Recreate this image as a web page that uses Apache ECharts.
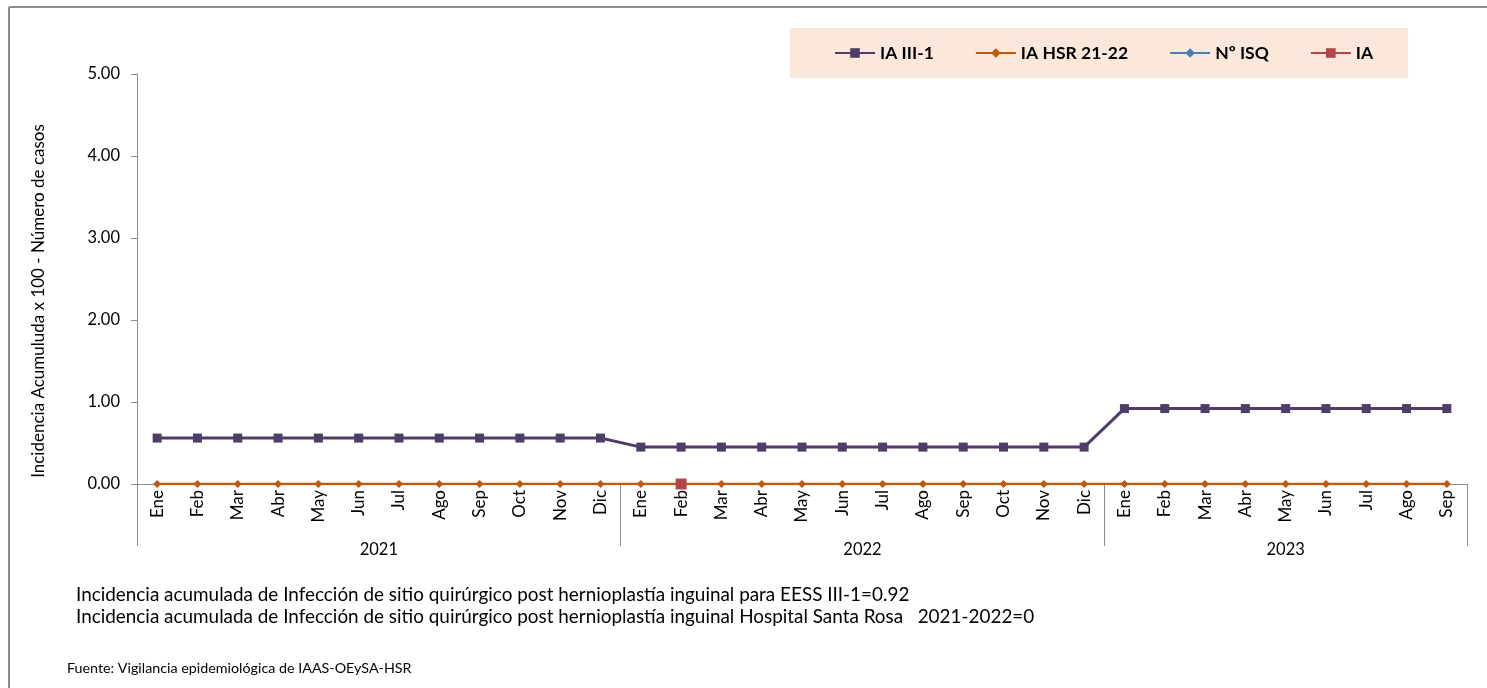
<!DOCTYPE html>
<html>
<head>
<meta charset="utf-8">
<script src="https://cdn.jsdelivr.net/npm/echarts@6/dist/echarts.min.js"></script>
<style>
  html, body { margin: 0; padding: 0; background: #fff; }
  #chart { width: 1487px; height: 688px; }
</style>
</head>
<body>
<div id="chart"></div>
<script>
// datos
const months = [
  'Ene','Feb','Mar','Abr','May','Jun','Jul','Ago','Sep','Oct','Nov','Dic',
  'Ene','Feb','Mar','Abr','May','Jun','Jul','Ago','Sep','Oct','Nov','Dic',
  'Ene','Feb','Mar','Abr','May','Jun','Jul','Ago','Sep'
]
const years = ['2021', '2022', '2023']
const monthsPerYear = [12, 12, 9]

const iaIII1 = [
  0.56,0.56,0.56,0.56,0.56,0.56,0.56,0.56,0.56,0.56,0.56,0.56,
  0.45,0.45,0.45,0.45,0.45,0.45,0.45,0.45,0.45,0.45,0.45,0.45,
  0.92,0.92,0.92,0.92,0.92,0.92,0.92,0.92,0.92
]
const iaHSR = [
  0,0,0,0,0,0,0,0,0,0,0,0,
  0,0,0,0,0,0,0,0,0,0,0,0,
  0,0,0,0,0,0,0,0,0
]
const nISQ = [
  null,null,null,null,null,null,null,null,null,null,null,null,
  null,null,null,null,null,null,null,null,null,null,null,null,
  null,null,null,null,null,null,null,null,null
]
const ia = [
  null,null,null,null,null,null,null,null,null,null,null,null,
  null,0,null,null,null,null,null,null,null,null,null,null,
  null,null,null,null,null,null,null,null,null
]

// separadores y posiciones de los años
const yearBounds = [0]
const yearCenters = []
monthsPerYear.forEach((n, i) => {
  yearCenters.push(yearBounds[i] + n / 2)
  yearBounds.push(yearBounds[i] + n)
})

const font = 'Lato, "Open Sans", sans-serif'
const gray = '#8c8c8c'

const chart = echarts.init(document.getElementById('chart'))
chart.setOption({
  animation: false,
  textStyle: { fontFamily: font },
  graphic: [
    { type: 'line', shape: { x1: 9, y1: 7, x2: 1487, y2: 7 }, style: { stroke: gray, lineWidth: 2 } },
    { type: 'line', shape: { x1: 9, y1: 7, x2: 9, y2: 688 }, style: { stroke: gray, lineWidth: 2 } }
  ],
  title: [
    {
      left: 71, top: 579,
      text: 'Incidencia acumulada de Infección de sitio quirúrgico post hernioplastía inguinal para EESS III-1=0.92\n' +
            'Incidencia acumulada de Infección de sitio quirúrgico post hernioplastía inguinal Hospital Santa Rosa   2021-2022=0',
      textStyle: { fontSize: 18.9, fontWeight: 'normal', color: '#000', lineHeight: 22, fontFamily: font }
    },
    {
      left: 62, top: 656,
      text: 'Fuente: Vigilancia epidemiológica de IAAS-OEySA-HSR',
      textStyle: { fontSize: 14.3, fontWeight: 'normal', color: '#000', fontFamily: font }
    }
  ],
  legend: {
    left: 790, top: 28,
    padding: [16, 35, 16, 44],
    backgroundColor: '#fce8da',
    itemGap: 41,
    itemWidth: 40,
    itemHeight: 12,
    textStyle: { fontSize: 17.5, fontWeight: 'bold', color: '#000', fontFamily: font },
    data: ['IA III-1', 'IA HSR 21-22', 'Nº ISQ', 'IA']
  },
  grid: { left: 137, right: 20, top: 74, bottom: 204 },
  xAxis: [
    {
      type: 'category',
      data: months,
      boundaryGap: true,
      axisLine: { lineStyle: { color: gray } },
      axisTick: { show: false },
      axisLabel: { rotate: 90, fontSize: 17, color: '#000', margin: 6, interval: 0 }
    },
    {
      type: 'value',
      position: 'bottom',
      min: 0,
      max: yearBounds[yearBounds.length - 1],
      axisLine: { show: false },
      splitLine: { show: false },
      axisTick: { show: true, customValues: yearBounds, length: 62, lineStyle: { color: gray } },
      axisLabel: {
        customValues: yearCenters,
        margin: 57,
        fontSize: 16.5,
        color: '#000',
        formatter: v => years[yearCenters.indexOf(v)]
      }
    }
  ],
  yAxis: {
    type: 'value',
    min: 0, max: 5, interval: 1,
    name: 'Incidencia Acumuluda x 100 - Número de casos',
    nameLocation: 'middle',
    nameGap: 90,
    nameTextStyle: { fontSize: 17, color: '#000', padding: [0, 44, 0, 0] },
    axisLine: { show: true, lineStyle: { color: gray } },
    axisTick: { show: true, length: 6, lineStyle: { color: gray } },
    splitLine: { show: false },
    axisLabel: { fontSize: 16.5, color: '#000', margin: 17, formatter: v => v.toFixed(2) }
  },
  series: [
    {
      name: 'IA III-1', type: 'line', data: iaIII1,
      symbol: 'rect', symbolSize: 9,
      lineStyle: { width: 3, color: '#4e3d67' },
      itemStyle: { color: '#4e3d67' }
    },
    {
      name: 'IA HSR 21-22', type: 'line', data: iaHSR,
      symbol: 'diamond', symbolSize: 8,
      lineStyle: { width: 2.5, color: '#c0580f' },
      itemStyle: { color: '#c0580f' }
    },
    {
      name: 'Nº ISQ', type: 'line', data: nISQ,
      symbol: 'diamond', symbolSize: 9,
      lineStyle: { width: 2.5, color: '#4a7ebb' },
      itemStyle: { color: '#4a7ebb' }
    },
    {
      name: 'IA', type: 'line', data: ia,
      symbol: 'rect', symbolSize: 11,
      lineStyle: { width: 2.5, color: '#b0464a' },
      itemStyle: { color: '#b0464a' }
    }
  ]
})
</script>
</body>
</html>
